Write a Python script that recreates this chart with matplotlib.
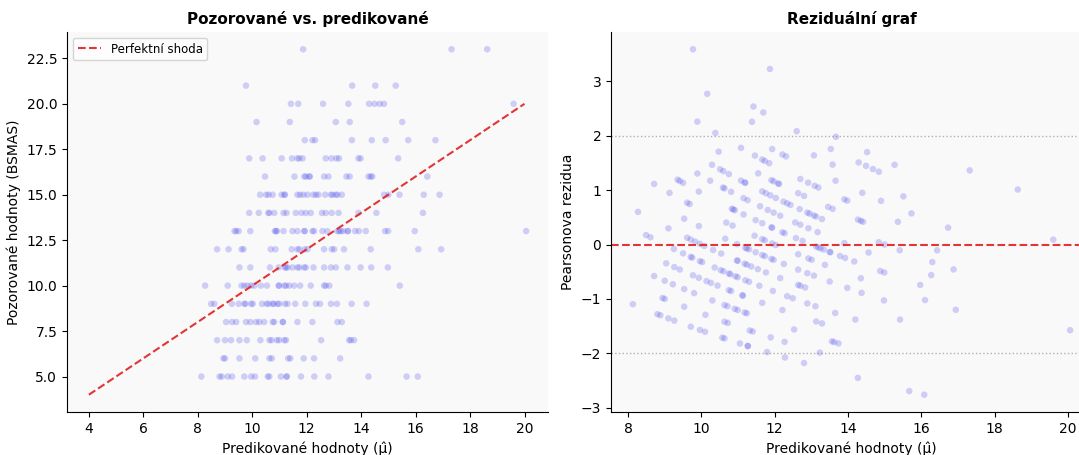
import numpy as np
import matplotlib
matplotlib.use("Agg")
import matplotlib.pyplot as plt

# Predicted values (mu-hat) grouped by observed BSMAS score
pred_obs5 = [8.13, 8.80, 8.88, 9.10, 9.26, 9.71, 9.96, 10.10, 10.57, 10.63, 11.05, 11.26, 11.27,
             11.79, 12.28, 12.80, 14.27, 15.67, 16.08]
pred_obs6 = [8.94, 9.00, 9.53, 10.11, 10.63, 10.72, 11.32, 11.40, 11.89, 12.27, 13.23]
pred_obs7 = [8.71, 9.00, 9.22, 9.53, 9.80, 10.30, 10.63, 10.71, 10.91, 10.99, 11.18, 11.24,
             12.53, 13.56, 13.62, 13.74]
pred_obs8 = [9.04, 9.26, 9.41, 9.77, 9.93, 10.14, 10.26, 10.44, 10.75, 10.81, 11.12, 11.13,
             11.66, 12.21, 13.13, 13.29]
pred_obs9 = [8.49, 8.61, 9.25, 9.50, 9.71, 9.75, 9.96, 10.02, 10.36, 10.53, 10.60, 10.75,
             10.79, 10.93, 10.99, 11.20, 11.30, 11.58, 11.95, 12.34, 12.49, 12.89, 13.11,
             13.65, 14.20]
pred_obs10 = [8.27, 9.10, 9.61, 9.71, 9.83, 9.96, 10.08, 10.32, 10.54, 10.97, 10.99, 11.18,
              11.24, 11.36, 11.54, 11.76, 12.15, 12.64, 12.70, 12.83, 15.42]
pred_obs11 = [9.53, 9.93, 10.65, 10.97, 11.20, 11.24, 11.30, 11.48, 11.66, 11.73, 11.91,
              11.97, 12.25, 12.64, 12.89, 13.07, 13.50, 13.98, 14.37, 14.98]
pred_obs12 = [8.71, 9.13, 9.61, 9.68, 10.68, 10.85, 11.45, 11.66, 11.73, 11.93, 12.03,
              12.64, 12.92, 13.01, 13.37, 14.35, 16.10, 16.94]
pred_obs13 = [9.35, 9.41, 9.50, 9.93, 10.83, 10.87, 10.91, 11.15, 11.48, 11.66, 11.91,
              11.93, 12.21, 12.27, 12.58, 12.76, 13.13, 13.19, 13.25, 13.34, 13.50, 13.52,
              13.78, 13.92, 14.17, 14.88, 14.99, 15.97, 20.06]
pred_obs14 = [9.89, 10.24, 10.59, 10.63, 10.81, 11.15, 11.26, 11.60, 11.81, 11.97, 12.15,
              12.56, 12.70, 12.92, 13.17, 13.90, 14.56, 16.27]
pred_obs15 = [10.29, 10.51, 10.60, 10.75, 11.08, 11.18, 11.20, 11.66, 11.76, 11.88, 12.03,
              12.24, 12.34, 12.43, 12.68, 12.89, 12.95, 13.07, 13.13, 13.29, 14.84, 15.00,
              15.41, 16.30, 16.88]
pred_obs16 = [10.47, 11.55, 11.91, 11.97, 12.09, 12.12, 12.64, 12.80, 13.46, 13.58, 14.27,
              14.35, 14.41, 16.43]
pred_obs17 = [9.89, 10.38, 11.08, 11.46, 11.66, 11.73, 11.85, 12.70, 12.91, 13.09, 13.19,
              13.90, 13.98, 15.36]
pred_obs18 = [11.93, 12.21, 12.31, 13.66, 14.39, 14.90, 15.73, 16.73]
pred_obs19 = [10.16, 11.38, 13.07, 13.58, 15.51]
pred_obs20 = [11.42, 11.69, 12.60, 13.53, 14.29, 14.49, 14.68, 14.84, 19.60]
pred_obs21 = [9.77, 13.67, 14.52, 15.27]
pred_obs23 = [11.87, 17.32, 18.63]

score_levels = [5, 6, 7, 8, 9, 10, 11, 12, 13, 14, 15, 16, 17, 18, 19, 20, 21, 23]
pred_groups = [pred_obs5, pred_obs6, pred_obs7, pred_obs8, pred_obs9, pred_obs10, pred_obs11,
               pred_obs12, pred_obs13, pred_obs14, pred_obs15, pred_obs16, pred_obs17,
               pred_obs18, pred_obs19, pred_obs20, pred_obs21, pred_obs23]

line_ends = [4, 20]

predicted = np.concatenate([np.array(g, dtype=float) for g in pred_groups])
observed = np.concatenate([np.full(len(g), s, dtype=float) for g, s in zip(pred_groups, score_levels)])
pearson_resid = (observed - predicted) / np.sqrt(predicted)

fig = plt.figure(figsize=(10.79, 4.55), dpi=100)
bg = '#f9f9f9'
pt_color = '#4a4aee'

ax1 = fig.add_axes([67/1079, 43/455, 481/1079, 380/455])
ax2 = fig.add_axes([611/1079, 43/455, 481/1079, 380/455])

for ax in (ax1, ax2):
    ax.set_facecolor(bg)
    ax.spines['top'].set_visible(False)
    ax.spines['right'].set_visible(False)
    ax.tick_params(labelsize=10)

ax1.scatter(predicted, observed, s=22, color=pt_color, alpha=0.25, edgecolors='none')
ax1.plot(line_ends, line_ends, color='#e02020', linestyle='--', linewidth=1.5, alpha=0.9,
         label='Perfektní shoda')
ax1.set_title('Pozorované vs. predikované', fontsize=11, fontweight='bold')
ax1.set_xlabel('Predikované hodnoty (μ̂)', fontsize=10)
ax1.set_ylabel('Pozorované hodnoty (BSMAS)', fontsize=10)
ax1.set_xticks([4, 6, 8, 10, 12, 14, 16, 18, 20])
ax1.set_yticks([5.0, 7.5, 10.0, 12.5, 15.0, 17.5, 20.0, 22.5])
ax1.set_yticklabels(['5.0', '7.5', '10.0', '12.5', '15.0', '17.5', '20.0', '22.5'])
ax1.legend(loc='upper left', fontsize=8.5)

ax2.scatter(predicted, pearson_resid, s=22, color=pt_color, alpha=0.25, edgecolors='none')
ax2.axhline(0, color='#e02020', linestyle='--', linewidth=1.5, alpha=0.9)
ax2.axhline(2, color='gray', linestyle=':', linewidth=1, alpha=0.6)
ax2.axhline(-2, color='gray', linestyle=':', linewidth=1, alpha=0.6)
ax2.set_title('Reziduální graf', fontsize=11, fontweight='bold')
ax2.set_xlabel('Predikované hodnoty (μ̂)', fontsize=10)
ax2.set_ylabel('Pearsonova rezidua', fontsize=10)
ax2.set_xticks([8, 10, 12, 14, 16, 18, 20])
ax2.set_yticks([-3, -2, -1, 0, 1, 2, 3])

fig.savefig('out.png', dpi=100)
